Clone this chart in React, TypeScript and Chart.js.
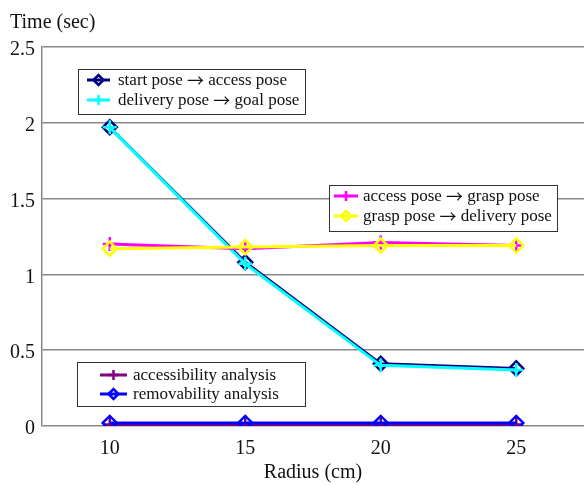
import React, { useEffect, useRef } from "react";
import { Chart, registerables } from "chart.js";

Chart.register(...registerables);

const radiusCm = [10, 15, 20, 25];
const startToAccess = [1.97, 1.08, 0.41, 0.38];
const deliveryToGoal = [1.97, 1.07, 0.4, 0.37];
const accessToGrasp = [1.2, 1.17, 1.21, 1.19];
const graspToDelivery = [1.17, 1.18, 1.19, 1.19];
const accessibilityAnalysis = [0.01, 0.01, 0.01, 0.01];
const removabilityAnalysis = [0.02, 0.02, 0.02, 0.02];

const seriesNames = [
  "start pose \u2192 access pose",
  "delivery pose \u2192 goal pose",
  "access pose \u2192 grasp pose",
  "grasp pose \u2192 delivery pose",
  "accessibility analysis",
  "removability analysis",
];
const yTicks = [0, 0.5, 1, 1.5, 2, 2.5];
const yTitle = "Time (sec)";
const xTitle = "Radius (cm)";

const FONT = "'Liberation Serif', 'Times New Roman', serif";
const ARROW_FONT = "'Noto Sans CJK JP', 'DejaVu Sans', sans-serif";

const toPts = (vals: number[]) => vals.map((v, i) => ({ x: radiusCm[i], y: v }));

type Style = { color: string; shape: "diamond" | "cross"; order: number };
const styles: Style[] = [
  { color: "#000080", shape: "diamond", order: 6 },
  { color: "#00FFFF", shape: "cross", order: 5 },
  { color: "#FF00FF", shape: "cross", order: 4 },
  { color: "#FFFF00", shape: "diamond", order: 3 },
  { color: "#800080", shape: "cross", order: 2 },
  { color: "#0000FF", shape: "diamond", order: 1 },
];
const seriesValues = [
  startToAccess,
  deliveryToGoal,
  accessToGrasp,
  graspToDelivery,
  accessibilityAnalysis,
  removabilityAnalysis,
];

const legendGroups = [
  { items: [0, 1], left: 78, top: 69, width: 227, height: 45, rowTop: 11, rowGap: 20, sampleL: 9, sampleR: 32, textX: 40 },
  { items: [2, 3], left: 329, top: 185, width: 228, height: 46, rowTop: 11, rowGap: 20, sampleL: 5, sampleR: 29, textX: 34 },
  { items: [4, 5], left: 77, top: 362, width: 228, height: 44, rowTop: 13, rowGap: 19, sampleL: 23, sampleR: 50, textX: 56 },
];

function drawMarker(ctx: CanvasRenderingContext2D, shape: string, x: number, y: number, r: number, color: string) {
  ctx.save();
  ctx.strokeStyle = color;
  ctx.lineWidth = 2.5;
  ctx.beginPath();
  if (shape === "diamond") {
    ctx.moveTo(x - r, y);
    ctx.lineTo(x, y - r);
    ctx.lineTo(x + r, y);
    ctx.lineTo(x, y + r);
    ctx.closePath();
  } else {
    ctx.moveTo(x - r, y);
    ctx.lineTo(x + r, y);
    ctx.moveTo(x, y - r);
    ctx.lineTo(x, y + r);
  }
  ctx.stroke();
  ctx.restore();
}

function drawLabel(ctx: CanvasRenderingContext2D, text: string, x: number, y: number) {
  const parts = text.split("\u2192");
  let cx = x;
  parts.forEach((p, i) => {
    ctx.font = `17px ${FONT}`;
    ctx.fillText(p, cx, y);
    cx += ctx.measureText(p).width;
    if (i < parts.length - 1) {
      ctx.font = `17px ${ARROW_FONT}`;
      ctx.fillText("\u2192", cx, y);
      cx += ctx.measureText("\u2192").width;
    }
  });
}

const overlayPlugin = {
  id: "overlay",
  afterDatasetsDraw(chart: any) {
    const ctx: CanvasRenderingContext2D = chart.ctx;
    ctx.save();
    for (const g of legendGroups) {
      ctx.fillStyle = "#ffffff";
      ctx.fillRect(g.left, g.top, g.width, g.height);
      ctx.strokeStyle = "#333333";
      ctx.lineWidth = 1;
      ctx.strokeRect(g.left + 0.5, g.top + 0.5, g.width, g.height);
      g.items.forEach((idx, i) => {
        const st = styles[idx];
        const y = g.top + g.rowTop + i * g.rowGap;
        ctx.strokeStyle = st.color;
        ctx.lineWidth = 3;
        ctx.beginPath();
        ctx.moveTo(g.left + g.sampleL, y);
        ctx.lineTo(g.left + g.sampleR, y);
        ctx.stroke();
        drawMarker(ctx, st.shape, g.left + (g.sampleL + g.sampleR) / 2, y, 5, st.color);
        ctx.fillStyle = "#111111";
        ctx.textAlign = "left";
        ctx.textBaseline = "middle";
        drawLabel(ctx, seriesNames[idx], g.left + g.textX, y + 1);
      });
    }
    ctx.fillStyle = "#111111";
    ctx.font = `20px ${FONT}`;
    ctx.textBaseline = "middle";
    ctx.textAlign = "left";
    ctx.fillText(yTitle, 10, 23);
    ctx.textAlign = "center";
    const ca = chart.chartArea;
    ctx.fillText(xTitle, (ca.left + ca.right) / 2, 473);
    ctx.restore();
  },
};

export default function App() {
  const ref = useRef<HTMLCanvasElement | null>(null);
  useEffect(() => {
    document.body.style.margin = "0";
    if (!ref.current) return;
    const chart = new Chart(ref.current, {
      type: "line",
      data: {
        datasets: seriesValues.map((vals, i) => ({
          label: seriesNames[i],
          data: toPts(vals),
          borderColor: styles[i].color,
          backgroundColor: "rgba(0,0,0,0)",
          borderWidth: 3,
          pointStyle: styles[i].shape === "diamond" ? "rectRot" : "cross",
          pointRadius: 7,
          pointBorderWidth: 2.5,
          pointBorderColor: styles[i].color,
          pointBackgroundColor: "rgba(0,0,0,0)",
          tension: 0,
          order: styles[i].order,
        })),
      },
      options: {
        animation: false,
        responsive: false,
        devicePixelRatio: 1,
        layout: { autoPadding: false, padding: { top: 47, right: 0, left: 0, bottom: 0 } },
        plugins: { legend: { display: false }, tooltip: { enabled: false }, title: { display: false } },
        scales: {
          x: {
            type: "linear",
            min: 7.5,
            max: 27.5,
            afterFit: (s: any) => {
              s.height = 59;
              s.paddingLeft = 0;
              s.paddingRight = 0;
            },
            afterBuildTicks: (s: any) => {
              s.ticks = radiusCm.map((v) => ({ value: v }));
            },
            grid: { display: false, drawTicks: false },
            border: { display: false },
            ticks: { font: { family: FONT, size: 20 }, color: "#111111", padding: 11, maxRotation: 0 },
          },
          y: {
            type: "linear",
            min: 0,
            max: 2.5,
            afterFit: (s: any) => {
              s.width = 42;
              s.paddingTop = 0;
              s.paddingBottom = 0;
            },
            afterBuildTicks: (s: any) => {
              s.ticks = yTicks.map((v) => ({ value: v }));
            },
            grid: { color: "#888888", lineWidth: 1.5, drawTicks: false },
            border: { display: true, color: "#888888", width: 1.5 },
            ticks: {
              font: { family: FONT, size: 20 },
              color: "#111111",
              padding: 7,
              labelOffset: 3,
              callback: (v: any) => String(v),
            },
          },
        },
      },
      plugins: [overlayPlugin],
    });
    return () => chart.destroy();
  }, []);
  return (
    <div style={{ width: 584, height: 485 }}>
      <canvas ref={ref} width={584} height={485} />
    </div>
  );
}
